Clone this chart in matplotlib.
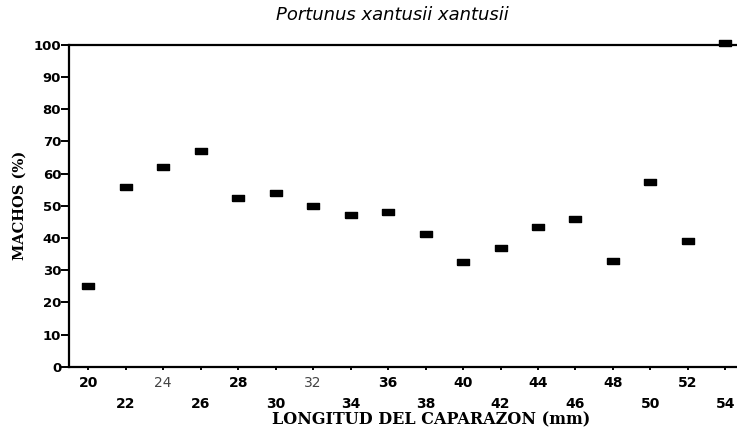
import numpy as np
import matplotlib
matplotlib.use('Agg')
from matplotlib import pyplot as plt

# carapace length (mm) and percent of males
longitud = [20, 22, 24, 26, 28, 30, 32, 34, 36, 38, 40, 42, 44, 46, 48, 50, 52, 54]
machos = [25, 56, 62, 67, 52.4, 54, 50, 47.2, 48, 41.2, 32.6, 36.8, 43.5, 46, 32.9, 57.5, 39.1, 100.5]

top_ticks = [20, 24, 28, 32, 36, 40, 44, 48, 52]
top_labels = ["20", "24", "28", "32", "36", "40", "44", "48", "52"]
low_ticks = [22, 26, 30, 34, 38, 42, 46, 50, 54]
low_labels = ["22", "26", "30", "34", "38", "42", "46", "50", "54"]
y_ticks = [0, 10, 20, 30, 40, 50, 60, 70, 80, 90, 100]

fig = plt.figure(figsize=(7.37, 4.38), dpi=100)
ax = fig.add_axes([0.0943, 0.1628, 0.9057, 0.7345])

rect = [(-1, -0.5), (1, -0.5), (1, 0.5), (-1, 0.5), (-1, -0.5)]
ax.plot(longitud, machos, linestyle='none', marker=rect, markersize=8.6,
        color='black', clip_on=False)

ax.set_xlim(19, 54.62)
ax.set_ylim(0, 100)

for side in ['left', 'top', 'bottom']:
    ax.spines[side].set_linewidth(1.6)
ax.spines['right'].set_visible(False)

ax.set_yticks(y_ticks)
ax.set_yticklabels([str(v) for v in y_ticks], fontweight='bold', fontsize=9.5)
ax.tick_params(axis='y', direction='out', length=6, width=1.4, pad=0)

ax.set_xticks(top_ticks)
ax.set_xticklabels(top_labels, fontweight='bold', fontsize=10)
ax.set_xticks(low_ticks, minor=True)
ax.set_xticklabels(low_labels, minor=True, fontweight='bold', fontsize=10)
ax.tick_params(axis='x', which='major', direction='out', length=2, width=1.4, pad=5)
ax.tick_params(axis='x', which='minor', direction='out', length=2, width=1.4, pad=19.5)

# the 24 and 32 labels are printed lighter in the original
for lab in ax.get_xticklabels():
    if lab.get_text() in ("24", "32"):
        lab.set_fontweight('normal')
        lab.set_color('#444444')

fig.text(392 / 737, 1 - 15 / 438, "Portunus xantusii xantusii", ha='center', va='center',
         fontsize=13, style='italic', family='DejaVu Sans')
fig.text(431 / 737, 1 - 420 / 438, "LONGITUD DEL CAPARAZON (mm)", ha='center', va='center',
         fontsize=11.5, fontweight='bold', family='DejaVu Serif')
fig.text(20 / 737, 1 - 205 / 438, "MACHOS (%)", ha='center', va='center', rotation=90,
         fontsize=10.5, fontweight='bold', family='DejaVu Serif')

plt.savefig("out.png", dpi=100)
